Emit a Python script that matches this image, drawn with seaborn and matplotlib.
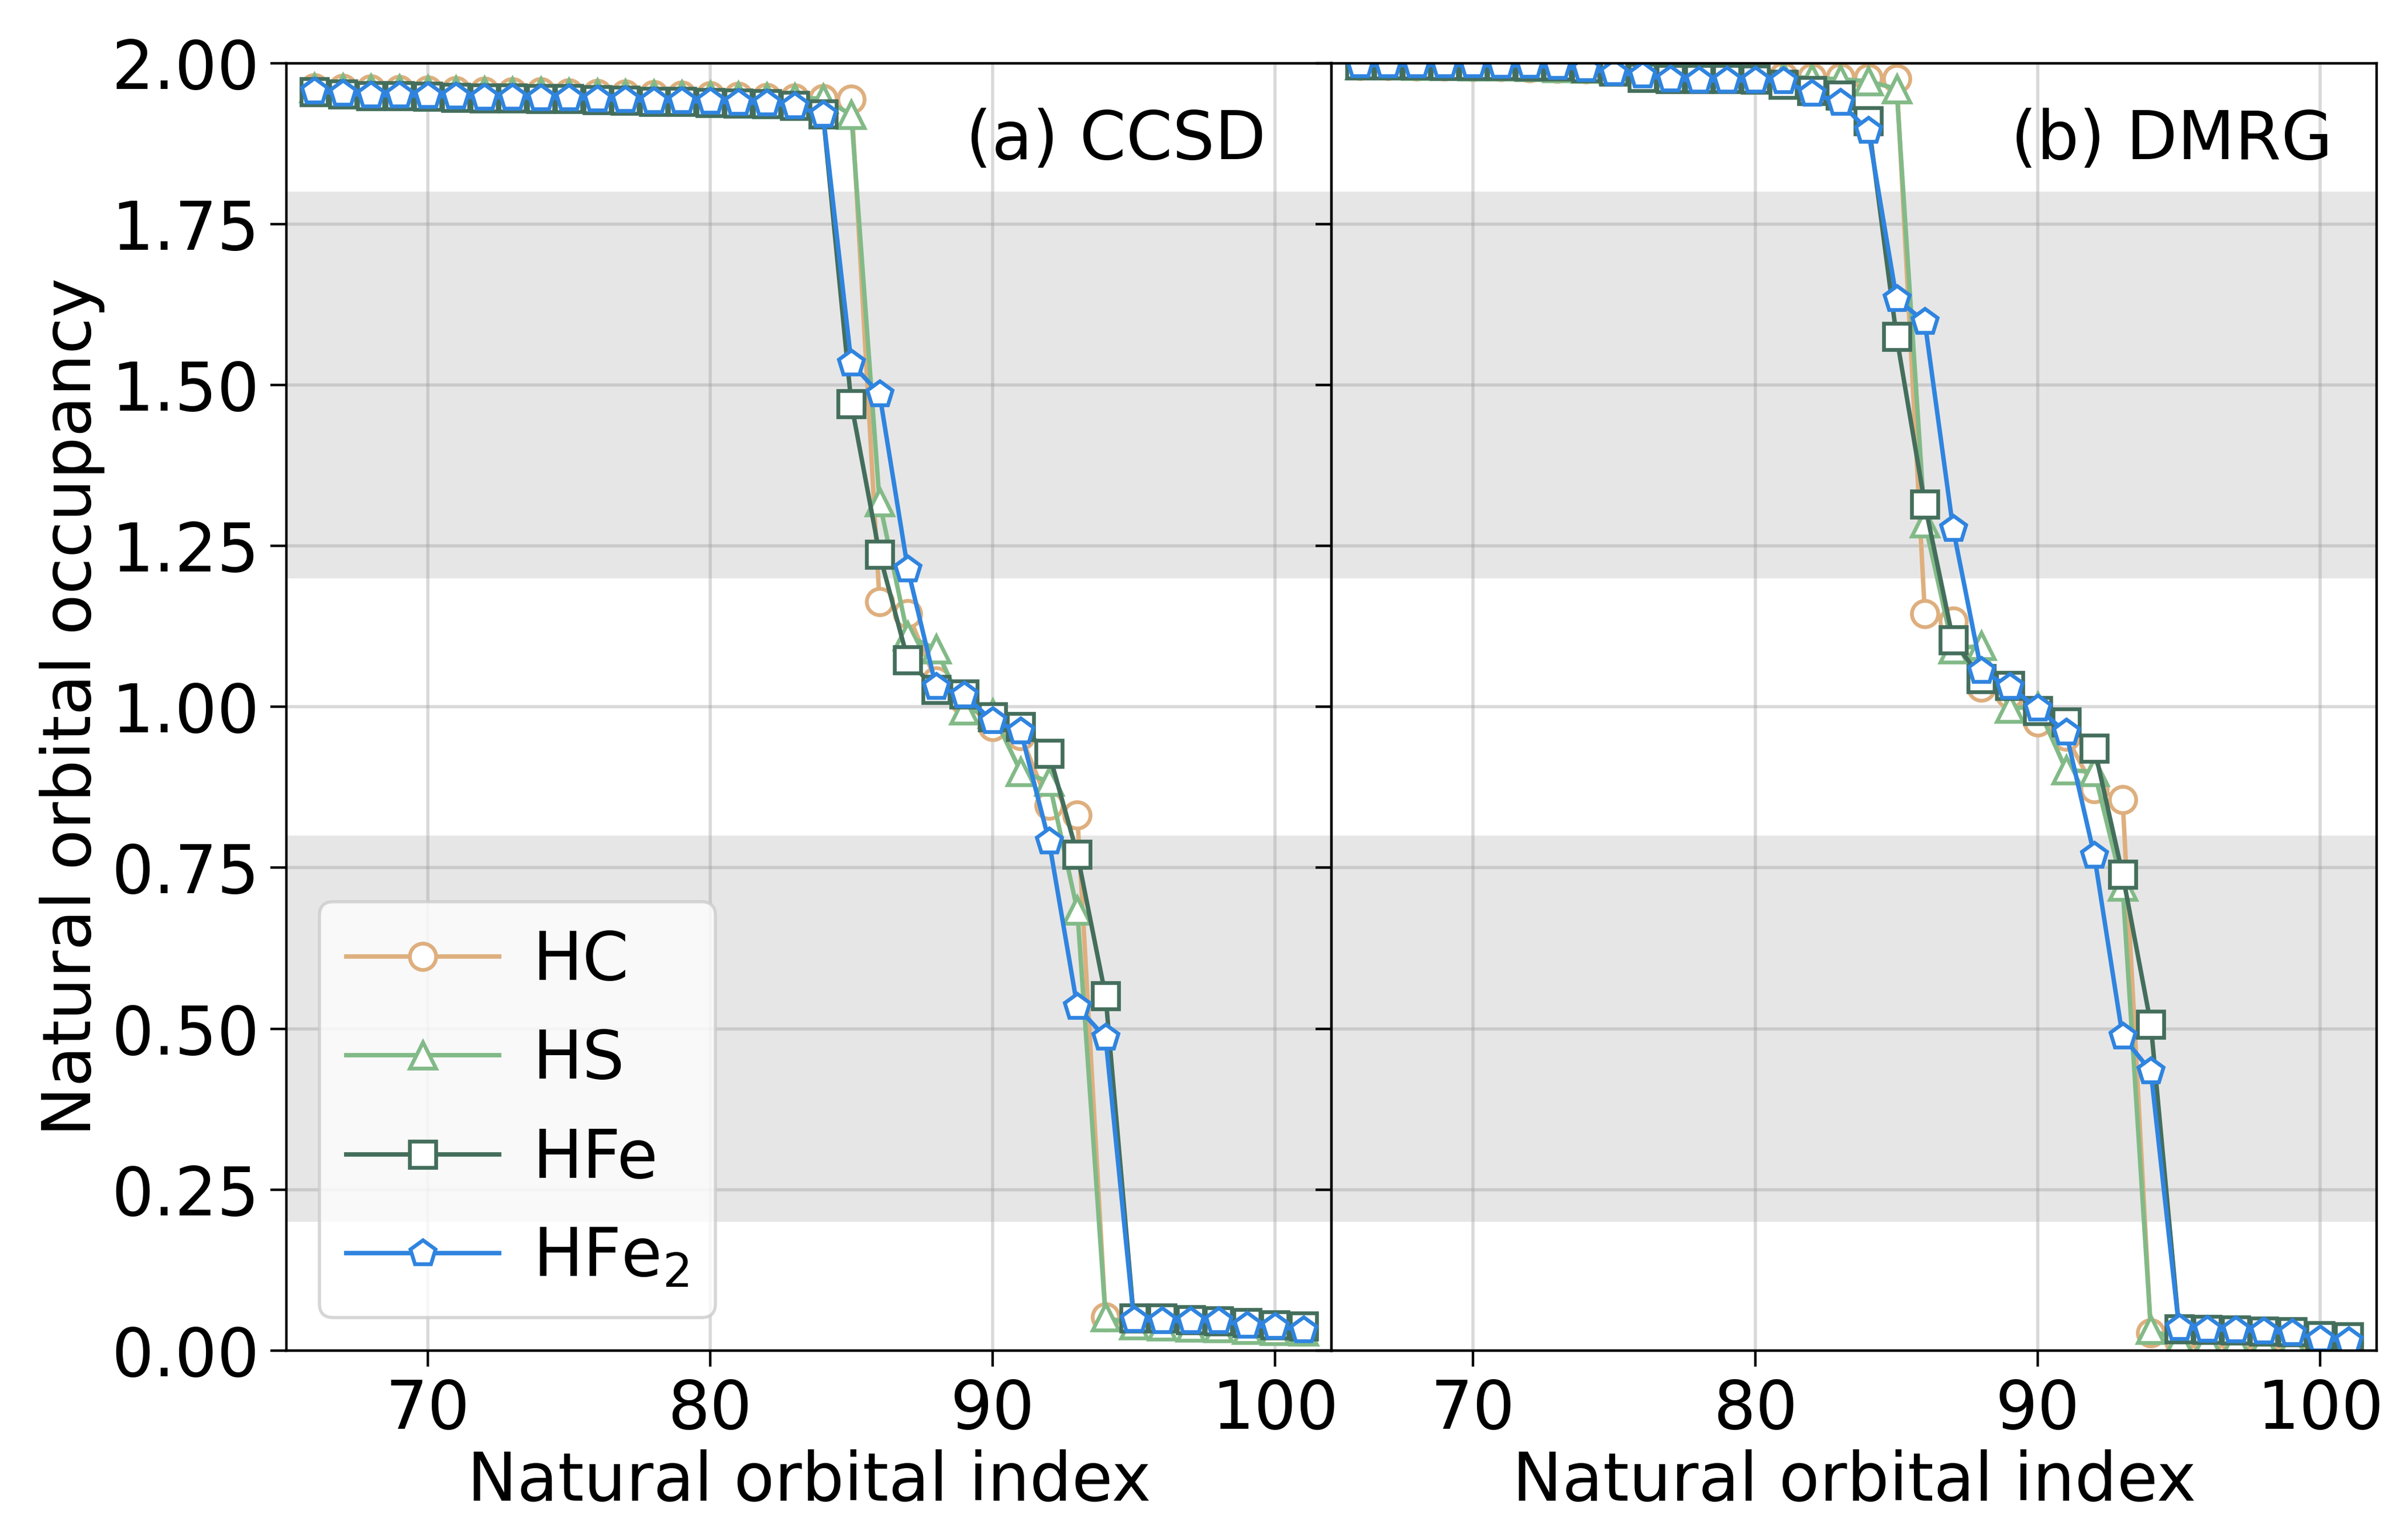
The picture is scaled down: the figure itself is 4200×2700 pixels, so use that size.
import matplotlib
matplotlib.use("Agg")
import matplotlib.pyplot as plt
import numpy as np
import pandas as pd
import seaborn as sns

# ---------------- data ----------------
orbital_index = list(range(66, 102))

ccsd_hc = [1.962, 1.961, 1.960, 1.959, 1.958, 1.957, 1.956, 1.955, 1.955, 1.954,
           1.953, 1.952, 1.951, 1.950, 1.949, 1.948, 1.947, 1.946, 1.945, 1.944,
           1.163, 1.145, 1.040, 1.010, 0.969, 0.955, 0.847, 0.832, 0.052, 0.045,
           0.043, 0.040, 0.038, 0.036, 0.033, 0.030]
ccsd_hs = [1.962, 1.961, 1.960, 1.959, 1.958, 1.957, 1.956, 1.955, 1.955, 1.954,
           1.953, 1.952, 1.951, 1.950, 1.949, 1.948, 1.947, 1.946, 1.945, 1.920,
           1.318, 1.110, 1.090, 0.995, 0.990, 0.899, 0.884, 0.684, 0.052, 0.040,
           0.038, 0.036, 0.035, 0.033, 0.031, 0.030]
ccsd_hfe = [1.955, 1.952, 1.949, 1.949, 1.948, 1.947, 1.946, 1.946, 1.945, 1.945,
            1.943, 1.942, 1.940, 1.940, 1.939, 1.938, 1.937, 1.934, 1.921, 1.471,
            1.237, 1.073, 1.027, 1.020, 0.984, 0.969, 0.928, 0.771, 0.551, 0.050,
            0.050, 0.048, 0.046, 0.043, 0.040, 0.038]
ccsd_hfe2 = [1.956, 1.953, 1.950, 1.950, 1.949, 1.948, 1.947, 1.947, 1.946, 1.946,
             1.944, 1.943, 1.941, 1.941, 1.940, 1.939, 1.938, 1.933, 1.920, 1.534,
             1.486, 1.214, 1.031, 1.018, 0.978, 0.962, 0.791, 0.534, 0.486, 0.048,
             0.046, 0.046, 0.046, 0.039, 0.037, 0.032]

dmrg_hc = [1.996, 1.996, 1.995, 1.995, 1.994, 1.994, 1.993, 1.992, 1.991, 1.989,
           1.987, 1.985, 1.983, 1.982, 1.980, 1.979, 1.978, 1.978, 1.977, 1.976,
           1.145, 1.133, 1.030, 1.020, 0.976, 0.954, 0.873, 0.856, 0.027, 0.014,
           0.013, 0.013, 0.012, 0.012, 0.011, 0.010]
dmrg_hs = [1.997, 1.997, 1.996, 1.996, 1.995, 1.995, 1.994, 1.993, 1.992, 1.990,
           1.988, 1.986, 1.984, 1.982, 1.980, 1.979, 1.977, 1.975, 1.972, 1.960,
           1.286, 1.090, 1.095, 0.998, 1.000, 0.902, 0.899, 0.721, 0.033, 0.015,
           0.014, 0.013, 0.012, 0.012, 0.011, 0.010]
dmrg_hfe = [1.997, 1.997, 1.997, 1.996, 1.996, 1.996, 1.995, 1.995, 1.993, 1.987,
            1.978, 1.976, 1.976, 1.976, 1.975, 1.967, 1.957, 1.950, 1.910, 1.575,
            1.315, 1.104, 1.044, 1.033, 0.994, 0.976, 0.936, 0.740, 0.507, 0.034,
            0.033, 0.032, 0.030, 0.029, 0.023, 0.021]
dmrg_hfe2 = [1.997, 1.997, 1.997, 1.997, 1.997, 1.996, 1.996, 1.994, 1.991, 1.985,
             1.981, 1.975, 1.973, 1.973, 1.973, 1.972, 1.953, 1.939, 1.895, 1.634,
             1.598, 1.277, 1.056, 1.031, 0.998, 0.960, 0.769, 0.488, 0.434, 0.035,
             0.033, 0.032, 0.030, 0.027, 0.018, 0.015]

series_names = ["HC", "HS", "HFe", "HFe$_2$"]
series_colors = ["#DEAF7E", "#82BA87", "#446E5C", "#2F84DF"]
series_markers = ["o", "^", "s", "p"]
panel_titles = ["(a) CCSD", "(b) DMRG"]
panel_data = [[ccsd_hc, ccsd_hs, ccsd_hfe, ccsd_hfe2],
              [dmrg_hc, dmrg_hs, dmrg_hfe, dmrg_hfe2]]
y_ticks = [0.00, 0.25, 0.50, 0.75, 1.00, 1.25, 1.50, 1.75, 2.00]
x_ticks = [70, 80, 90, 100]
bands = [(0.2, 0.8), (1.2, 1.8)]

# ---------------- plot ----------------
FS = 21
plt.rcParams["font.family"] = ["DejaVu Sans"]
plt.rcParams["font.size"] = FS

fig, axes = plt.subplots(1, 2, figsize=(10.5, 6.75), dpi=400, sharey=True)
fig.subplots_adjust(left=0.1195, right=0.992, bottom=0.123, top=0.959, wspace=0)

for ax, title, data in zip(axes, panel_titles, panel_data):
    for lo, hi in bands:
        ax.axhspan(lo, hi, color="#e6e6e6", lw=0, zorder=0)
    for name, color, marker, vals in zip(series_names, series_colors, series_markers, data):
        df = pd.DataFrame({"index": orbital_index, "occ": vals})
        sns.lineplot(data=df, x="index", y="occ", ax=ax, color=color,
                     marker=marker, markersize=8.3, markerfacecolor="white",
                     markeredgecolor=color, markeredgewidth=1.2, linewidth=1.4,
                     label=name, legend=False)
    ax.set_axisbelow(True)
    ax.grid(True, color="#a0a0a0", alpha=0.4, lw=1.0)
    ax.set_xlim(65, 102)
    ax.set_ylim(0, 2)
    ax.set_xticks(x_ticks)
    ax.set_yticks(y_ticks)
    ax.set_xlabel("Natural orbital index", fontsize=FS, labelpad=2)
    ax.set_ylabel("")
    ax.tick_params(axis="both", labelsize=FS, length=5, width=0.8)
    ax.text(0.65, 0.94, title, transform=ax.transAxes, ha="left", va="center",
            fontsize=FS)

axes[0].yaxis.set_major_formatter(matplotlib.ticker.FormatStrFormatter("%.2f"))
axes[0].set_ylabel("Natural orbital occupancy", fontsize=FS, labelpad=2)
axes[1].tick_params(axis="y", labelleft=False)

handles, labels = axes[0].get_legend_handles_labels()
axes[0].legend(handles, labels, loc="lower left", fontsize=FS,
               handlelength=2.3, handletextpad=0.5)

fig.savefig("out.png", dpi=400)
